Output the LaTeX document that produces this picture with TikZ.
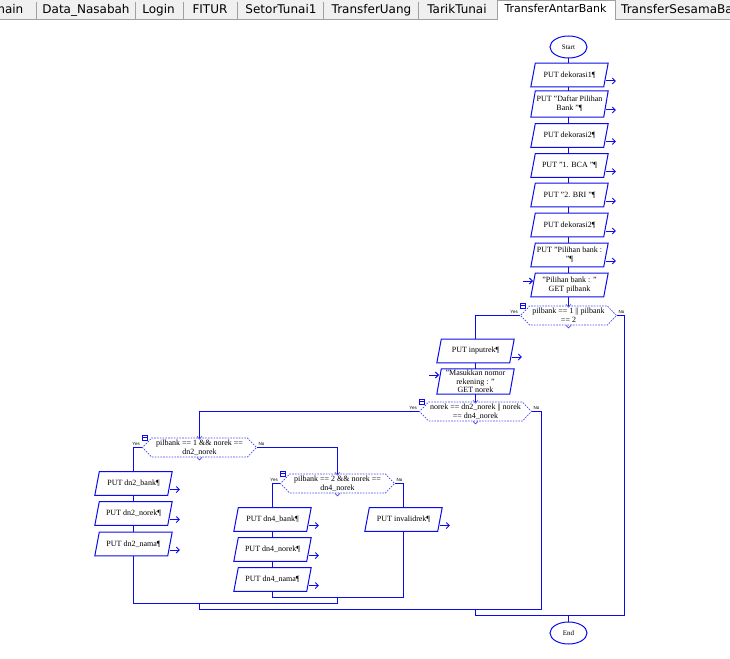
\documentclass[tikz,border=0pt]{standalone}
\usepackage{fontspec}
\setmainfont{Liberation Serif}
\newfontfamily\tabfont{DejaVu Sans}
\newfontfamily\labelfont{Liberation Sans}
\usepackage{tikz}
\usetikzlibrary{positioning, arrows.meta, calc, shapes.geometric, shapes.symbols}

\definecolor{flowblue}{RGB}{10,10,235}
\definecolor{tabgray}{RGB}{240,240,240}
\definecolor{tabline}{RGB}{160,160,160}

\begin{document}
\begin{tikzpicture}[x=1pt, y=-1pt,
  flow/.style={draw=flowblue, color=flowblue, line width=1pt},
  iobox/.style={rectangle, minimum width=72.5pt, minimum height=23.5pt,
    inner sep=1pt, align=center, font=\fontsize{8}{9}\selectfont},
  decision/.style={signal, signal to=west and east, signal pointer angle=92,
    draw=flowblue!75, line width=0.7pt, dash pattern=on 1.6pt off 1.2pt,
    minimum height=19pt, inner sep=0.5pt, align=center, font=\fontsize{8}{9}\selectfont},
  terminal/.style={draw=flowblue, line width=1pt, ellipse, minimum width=37pt, minimum height=22pt,
    inner sep=0pt, font=\fontsize{7}{7}\selectfont},
  outflow/.style={flow, -{Straight Barb[length=3pt, width=6pt]}},
  yesno/.style={font=\labelfont\fontsize{4.5}{4.5}\selectfont, inner sep=0pt},
  fold/.style={draw=flowblue, line width=0.6pt, minimum size=5pt, inner sep=0pt, fill=white},
  tabtext/.style={font=\tabfont\fontsize{12}{12}\selectfont, inner sep=0pt, anchor=base}]

\useasboundingbox (0,0) rectangle (730,658);
\clip (0,0) rectangle (730,658);

% --- tab bar ---
\fill[tabgray] (0,0) rectangle (730,19.5);
\fill[white] (497,0) rectangle (615,20.5);
\draw[tabline] (0,19.5) -- (497,19.5);
\draw[tabline] (615,19.5) -- (730,19.5);
\draw[tabline] (497,20) -- (497,0.5) -- (615,0.5) -- (615,20);
\foreach \sx in {36,135,183,237,323,418}
  \draw[tabline] (\sx,2) -- (\sx,19);
\node[tabtext, anchor=base east] (tab-main) at (23.5,14) {main};
\node[tabtext] (tab-nasabah) at (86,14) {Data\_Nasabah};
\node[tabtext] (tab-login) at (158.5,14) {Login};
\node[tabtext] (tab-fitur) at (210,14) {FITUR};
\node[tabtext] (tab-setor) at (281,14) {SetorTunai1};
\node[tabtext] (tab-uang) at (371.5,14) {TransferUang};
\node[tabtext] (tab-tarik) at (457,14) {TarikTunai};
\node[tabtext, font=\tabfont\fontsize{11}{11}\selectfont] (tab-antar) at (555.5,12.5) {TransferAntarBank};
\node[tabtext, anchor=base west] (tab-sesama) at (621,14) {TransferSesamaBank};

% --- main column ---
\node[terminal] (start) at (568.5,47) {Start};
\node[iobox] (b1) at (569.5,75) {PUT dekorasi1¶};
\node[iobox, minimum height=26pt] (b2) at (569.5,104) {PUT "Daftar Pilihan\\ Bank "¶};
\node[iobox] (b3) at (569.5,135.5) {PUT dekorasi2¶};
\node[iobox] (b4) at (569.5,165.5) {PUT "1. BCA "¶};
\node[iobox] (b5) at (569.5,195) {PUT "2. BRI "¶};
\node[iobox] (b6) at (569.5,225) {PUT dekorasi2¶};
\node[iobox] (b7) at (569.5,255) {PUT "Pilihan bank :\\ "¶};
\node[iobox] (b8) at (569.5,285) {"Pilihan bank : "\\ GET pilbank};
\node[decision, minimum width=96pt] (d1) at (568.5,315.5) {pilbank == 1 || pilbank\\ == 2};

% --- bank branch ---
\node[iobox] (inputrek) at (475.5,351) {PUT inputrek¶};
\node[iobox, minimum height=25pt, font=\fontsize{8}{8.3}\selectfont] (masuk) at (475.5,381.5)
  {"Masukkan nomor\\ rekening : "\\ GET norek};
\node[decision, minimum width=112pt] (d2) at (475.5,411.5) {norek == dn2\_norek || norek\\ == dn4\_norek};
\node[decision, minimum width=114pt] (d3) at (199.5,447.5) {pilbank == 1 \&\& norek ==\\ dn2\_norek};
\node[decision, minimum width=114pt] (d4) at (337.5,483.5) {pilbank == 2 \&\& norek ==\\ dn4\_norek};

\node[iobox] (dn2b) at (133.5,483.5) {PUT dn2\_bank¶};
\node[iobox] (dn2n) at (133.5,513.5) {PUT dn2\_norek¶};
\node[iobox] (dn2m) at (133.5,544) {PUT dn2\_nama¶};
\node[iobox] (dn4b) at (272.5,519.5) {PUT dn4\_bank¶};
\node[iobox] (dn4n) at (272.5,549.5) {PUT dn4\_norek¶};
\node[iobox] (dn4m) at (272.5,579.5) {PUT dn4\_nama¶};
\node[iobox] (invalid) at (403.5,519.5) {PUT invalidrek¶};

\node[terminal] (stop) at (568.5,633) {End};

% parallelogram outlines
\foreach \n in {b1,b2,b3,b4,b5,b6,b7,b8,inputrek,masuk,dn2b,dn2n,dn2m,dn4b,dn4n,dn4m,invalid}
  \draw[flow] ([xshift=2.25pt]\n.north west) -- ([xshift=2.25pt]\n.north east)
    -- ([xshift=-2.25pt]\n.south east) -- ([xshift=-2.25pt]\n.south west) -- cycle;

% merge points
\coordinate (j4) at (337.5,597.5);
\coordinate (j3) at (199.5,603.5);
\coordinate (j2) at (475.5,609.5);
\coordinate (j1) at (568.5,615.5);

% --- connectors ---
\foreach \a/\b in {start/b1, b1/b2, b2/b3, b3/b4, b4/b5, b5/b6, b6/b7, b7/b8}
  \draw[flow] (\a.south -| start) -- (\b.north -| start);
\draw[flow] (b8.south -| start) -- (d1.north);
\draw[flow] (inputrek.south) -- (masuk.north);
\draw[flow] (masuk.south) -- (d2.north);
\draw[flow] (dn2b.south) -- (dn2n.north);
\draw[flow] (dn2n.south) -- (dn2m.north);
\draw[flow] (dn4b.south) -- (dn4n.north);
\draw[flow] (dn4n.south) -- (dn4m.north);
\draw[flow] (d1.west) -- (d1.west -| inputrek.north) -- (inputrek.north);
\draw[flow] (d2.west) -- (d2.west -| d3.north) -- (d3.north);
\draw[flow] (d3.west) -- (d3.west -| dn2b.north) -- (dn2b.north);
\draw[flow] (d3.east) -- (d3.east -| d4.north) -- (d4.north);
\draw[flow] (d4.west) -- (d4.west -| dn4b.north) -- (dn4b.north);
\draw[flow] (d4.east) -- (d4.east -| invalid.north) -- (invalid.north);

\draw[flow] (dn4m.south) -- (dn4m.south |- j4) -- (invalid.south |- j4) -- (invalid.south);
\draw[flow] (j4) -- (j4 |- j3);
\draw[flow] (dn2m.south) -- (dn2m.south |- j3) -- (j4 |- j3);
\draw[flow] (j3) -- (j3 |- j2);
\draw[flow] (d2.east) -- ++(10,0) |- (j3 |- j2);
\draw[flow] (j2) -- (j2 |- j1);
\draw[flow] (d1.east) -- ++(8,0) |- (j2 |- j1);
\draw[flow] (j1) -- (stop.north);

% output and input arrows
\foreach \n in {b1,b2,b3,b4,b5,b6,b7,inputrek,dn2b,dn2n,dn2m,dn4b,dn4n,dn4m,invalid}
  \draw[outflow] ([yshift=-6pt]\n.east) -- ++(10,0);
\draw[outflow] ([xshift=-10pt, yshift=4pt]b8.west) -- ([yshift=4pt]b8.west);
\draw[outflow] ([xshift=-10pt, yshift=6.5pt]masuk.west) -- ([yshift=6.5pt]masuk.west);

% decision marks: yes/no, fold box, notches
\foreach \d in {d1,d2,d3,d4} {
  \node[yesno, anchor=south east] (\d-yes) at ([xshift=-2pt, yshift=1.5pt]\d.west) {Yes};
  \node[yesno, anchor=south west] (\d-no) at ([xshift=1.5pt, yshift=1.5pt]\d.east) {No};
  \node[fold] (\d-fold) at ($(\d.west |- \d.north)+(3,0)$) {};
  \draw[flowblue, line width=0.5pt] ([xshift=-1.6pt]\d-fold.center) -- ([xshift=1.6pt]\d-fold.center);
  \draw[flowblue!75, line width=0.6pt] ([xshift=-2.5pt, yshift=1.5pt]\d.north) -- ([yshift=-1.5pt]\d.north)
    -- ([xshift=2.5pt, yshift=1.5pt]\d.north);
  \draw[flowblue!75, line width=0.6pt] ([xshift=-2.5pt]\d.south) -- ([yshift=-2.5pt]\d.south)
    -- ([xshift=2.5pt]\d.south);
}

\end{tikzpicture}
\end{document}
